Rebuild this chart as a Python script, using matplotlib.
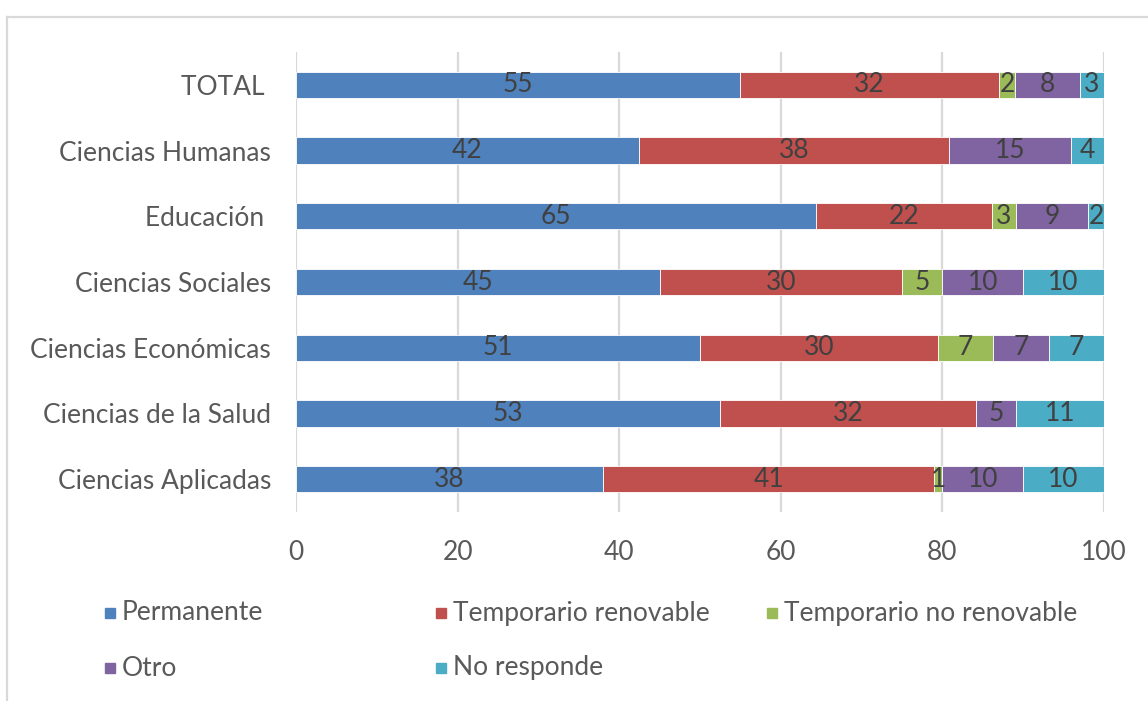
import matplotlib
matplotlib.use('Agg')
import matplotlib.pyplot as plt
from matplotlib.patches import Rectangle
from matplotlib.lines import Line2D
import numpy as np

# Data (percent per field)
categories = ['TOTAL ', 'Ciencias Humanas', 'Educación ', 'Ciencias Sociales',
              'Ciencias Económicas', 'Ciencias de la Salud', 'Ciencias Aplicadas']
series_names = ['Permanente', 'Temporario renovable', 'Temporario no renovable',
                'Otro', 'No responde']
permanente = [55, 42, 65, 45, 51, 53, 38]
temp_renovable = [32, 38, 22, 30, 30, 32, 41]
temp_no_renovable = [2, 0, 3, 5, 7, 0, 1]
otro = [8, 15, 9, 10, 7, 5, 10]
no_responde = [3, 4, 2, 10, 7, 11, 10]
xticks = [0, 20, 40, 60, 80, 100]

colors = ['#4F81BD', '#C0504D', '#9BBB59', '#8064A2', '#4BACC6']
text_color = '#404040'
tick_color = '#595959'
grid_color = '#D9D9D9'

plt.rcParams['font.family'] = ['Lato', 'DejaVu Sans']

W, H = 1148, 701
fig = plt.figure(figsize=(W / 100, H / 100), dpi=100)

# axes placed in pixel terms
left, right, top, bottom = 296, 1104, 52, 512
ax = fig.add_axes([left / W, (H - bottom) / H, (right - left) / W, (bottom - top) / H])

values = np.array([permanente, temp_renovable, temp_no_renovable, otro, no_responde], dtype=float)
shares = values / values.sum(axis=0) * 100  # 100% stacked

y = np.arange(len(categories))
starts = np.zeros(len(categories))
for i, name in enumerate(series_names):
    ax.barh(y, shares[i], left=starts, height=0.4, color=colors[i],
            edgecolor='white', linewidth=0.6, zorder=3, label=name)
    for j in range(len(categories)):
        if values[i, j] > 0:
            ax.text(starts[j] + shares[i, j] / 2, y[j], f'{int(values[i, j])}',
                    ha='center', va='center', fontsize=19, color=text_color, zorder=4)
    starts += shares[i]

ax.set_xlim(0, 100)
ax.set_ylim(len(categories) - 0.5, -0.5)
ax.set_yticks(y)
ax.set_yticklabels(categories)
ax.set_xticks(xticks)
ax.tick_params(axis='y', length=0, pad=18, labelsize=19, labelcolor=tick_color)
ax.tick_params(axis='x', length=0, pad=20, labelsize=19, labelcolor=tick_color)
for s in ax.spines.values():
    s.set_visible(False)
ax.xaxis.grid(True, color=grid_color, linewidth=1.6, zorder=0)
ax.set_axisbelow(True)

# legend drawn in Excel style (equal column widths)
for i, name in enumerate(series_names):
    col, row = i % 3, i // 3
    px = 105 + col * 331
    py = 613 + row * 55
    fig.patches.append(Rectangle((px / W, (H - py - 5) / H), 10 / W, 10 / H,
                                 transform=fig.transFigure, color=colors[i]))
    fig.text((px + 17) / W, (H - py) / H, name, ha='left', va='center',
             fontsize=19, color=tick_color)

# chart frame
fig.lines.append(Line2D([7 / W, 1], [(H - 17) / H] * 2, transform=fig.transFigure,
                        color=grid_color, linewidth=1.6))
fig.lines.append(Line2D([7 / W] * 2, [0, (H - 17) / H], transform=fig.transFigure,
                        color=grid_color, linewidth=1.6))

fig.savefig('out.png', dpi=100)
